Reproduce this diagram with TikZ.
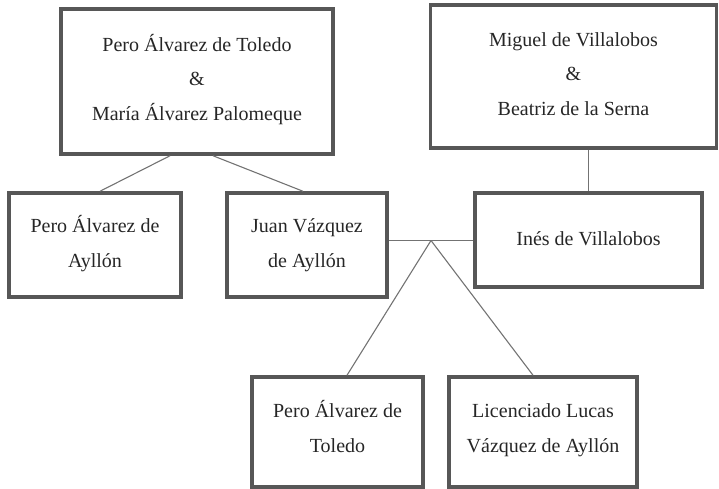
\documentclass[tikz,border=0pt]{standalone}
\usepackage{fontspec}
\setmainfont{Liberation Serif}
\newcommand{\liftedtext}[2]{\raisebox{#1}[\height][\depth]{\begin{tabular}{@{}c@{}}#2\end{tabular}}}
\begin{document}
\begin{tikzpicture}[x=1pt,y=-1pt,
  person/.style={draw=black!66,line width=3.5pt,align=center,inner sep=0pt,
    font=\fontsize{20}{34.5}\selectfont,text=black!85},
  link/.style={draw=black!55,line width=1.1pt}]
\useasboundingbox (0,0) rectangle (719,489);
\node[person,minimum width=272pt,minimum height=145pt] (pm) at (197,81.5) {\liftedtext{2.5pt}{Pero Álvarez de Toledo\\\&\\María Álvarez Palomeque}};
\node[person,minimum width=286pt,minimum height=143pt] (mb) at (573.5,76.5) {\liftedtext{2.5pt}{Miguel de Villalobos\\\&\\Beatriz de la Serna}};
\node[person,minimum width=172pt,minimum height=104pt] (pa) at (95,245) {\liftedtext{2pt}{Pero Álvarez de\\Ayllón}};
\node[person,minimum width=160pt,minimum height=104pt] (jv) at (307,245) {\liftedtext{2pt}{Juan Vázquez\\de Ayllón}};
\node[person,minimum width=227pt,minimum height=94pt] (iv) at (588.5,240) {\liftedtext{1pt}{Inés de Villalobos}};
\node[person,minimum width=171pt,minimum height=110pt] (pt) at (337.5,432) {\liftedtext{4pt}{Pero Álvarez de\\Toledo}};
\node[person,minimum width=188pt,minimum height=110pt] (lv) at (543,432) {\liftedtext{4pt}{Licenciado Lucas\\Vázquez de Ayllón}};
\coordinate (apex) at (431,240.5);
\draw[link] ([xshift=-27pt]pm.south) -- ([xshift=5pt]pa.north);
\draw[link] ([xshift=16pt]pm.south) -- ([xshift=-4pt]jv.north);
\draw[link] (iv.north |- mb.south) -- (iv.north);
\draw[link] (jv.east |- apex) -- (iv.west |- apex);
\draw[link] (apex) -- ([xshift=9.5pt]pt.north);
\draw[link] (apex) -- ([xshift=-10pt]lv.north);
\end{tikzpicture}
\end{document}
